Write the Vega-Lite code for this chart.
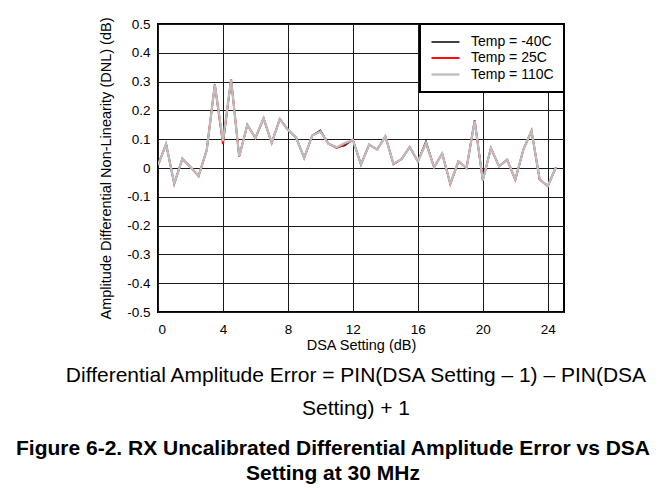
{
  "$schema": "https://vega.github.io/schema/vega-lite/v6.json",
  "padding": {"left": 15, "top": 16, "right": 5, "bottom": 5},
  "background": "white",
  "title": {
    "text": ["Figure 6-2. RX Uncalibrated Differential Amplitude Error vs DSA", "Setting at 30 MHz"],
    "orient": "bottom", "anchor": "middle", "frame": "bounds", "dx": -23,
    "font": "Liberation Sans", "fontSize": 21, "fontWeight": "bold", "lineHeight": 25,
    "offset": 18, "color": "black"
  },
  "vconcat": [
    {
      "width": 406,
      "height": 288,
      "title": {
        "text": ["Differential Amplitude Error = PIN(DSA Setting – 1) – PIN(DSA", "Setting) + 1"],
        "orient": "bottom", "anchor": "middle", "frame": "group", "dx": -5,
        "font": "Liberation Sans", "fontSize": 21, "fontWeight": "normal", "lineHeight": 33,
        "offset": 13, "color": "black"
      },
      "data": {
        "values": [
          {"dsa": 0, "Temp = -40C": 0.01, "Temp = 25C": 0.01, "Temp = 110C": 0.01},
          {"dsa": 0.5, "Temp = -40C": 0.083, "Temp = 25C": 0.083, "Temp = 110C": 0.083},
          {"dsa": 1, "Temp = -40C": -0.054, "Temp = 25C": -0.055, "Temp = 110C": -0.054},
          {"dsa": 1.5, "Temp = -40C": 0.032, "Temp = 25C": 0.032, "Temp = 110C": 0.032},
          {"dsa": 2, "Temp = -40C": 0.003, "Temp = 25C": 0.003, "Temp = 110C": 0.003},
          {"dsa": 2.5, "Temp = -40C": -0.027, "Temp = 25C": -0.028, "Temp = 110C": -0.027},
          {"dsa": 3, "Temp = -40C": 0.062, "Temp = 25C": 0.062, "Temp = 110C": 0.062},
          {"dsa": 3.5, "Temp = -40C": 0.289, "Temp = 25C": 0.29, "Temp = 110C": 0.289},
          {"dsa": 4, "Temp = -40C": 0.09, "Temp = 25C": 0.083, "Temp = 110C": 0.093},
          {"dsa": 4.5, "Temp = -40C": 0.308, "Temp = 25C": 0.308, "Temp = 110C": 0.308},
          {"dsa": 5, "Temp = -40C": 0.04, "Temp = 25C": 0.04, "Temp = 110C": 0.04},
          {"dsa": 5.5, "Temp = -40C": 0.15, "Temp = 25C": 0.15, "Temp = 110C": 0.15},
          {"dsa": 6, "Temp = -40C": 0.104, "Temp = 25C": 0.104, "Temp = 110C": 0.104},
          {"dsa": 6.5, "Temp = -40C": 0.173, "Temp = 25C": 0.173, "Temp = 110C": 0.173},
          {"dsa": 7, "Temp = -40C": 0.087, "Temp = 25C": 0.087, "Temp = 110C": 0.087},
          {"dsa": 7.5, "Temp = -40C": 0.17, "Temp = 25C": 0.17, "Temp = 110C": 0.17},
          {"dsa": 8, "Temp = -40C": 0.133, "Temp = 25C": 0.133, "Temp = 110C": 0.133},
          {"dsa": 8.5, "Temp = -40C": 0.106, "Temp = 25C": 0.106, "Temp = 110C": 0.106},
          {"dsa": 9, "Temp = -40C": 0.035, "Temp = 25C": 0.035, "Temp = 110C": 0.035},
          {"dsa": 9.5, "Temp = -40C": 0.113, "Temp = 25C": 0.113, "Temp = 110C": 0.113},
          {"dsa": 10, "Temp = -40C": 0.131, "Temp = 25C": 0.127, "Temp = 110C": 0.127},
          {"dsa": 10.5, "Temp = -40C": 0.084, "Temp = 25C": 0.084, "Temp = 110C": 0.084},
          {"dsa": 11, "Temp = -40C": 0.072, "Temp = 25C": 0.07, "Temp = 110C": 0.072},
          {"dsa": 11.5, "Temp = -40C": 0.078, "Temp = 25C": 0.082, "Temp = 110C": 0.087},
          {"dsa": 12, "Temp = -40C": 0.099, "Temp = 25C": 0.097, "Temp = 110C": 0.097},
          {"dsa": 12.5, "Temp = -40C": 0.012, "Temp = 25C": 0.012, "Temp = 110C": 0.012},
          {"dsa": 13, "Temp = -40C": 0.081, "Temp = 25C": 0.081, "Temp = 110C": 0.081},
          {"dsa": 13.5, "Temp = -40C": 0.064, "Temp = 25C": 0.064, "Temp = 110C": 0.064},
          {"dsa": 14, "Temp = -40C": 0.11, "Temp = 25C": 0.11, "Temp = 110C": 0.11},
          {"dsa": 14.5, "Temp = -40C": 0.015, "Temp = 25C": 0.013, "Temp = 110C": 0.015},
          {"dsa": 15, "Temp = -40C": 0.031, "Temp = 25C": 0.031, "Temp = 110C": 0.031},
          {"dsa": 15.5, "Temp = -40C": 0.073, "Temp = 25C": 0.073, "Temp = 110C": 0.073},
          {"dsa": 16, "Temp = -40C": 0.023, "Temp = 25C": 0.023, "Temp = 110C": 0.023},
          {"dsa": 16.5, "Temp = -40C": 0.093, "Temp = 25C": 0.087, "Temp = 110C": 0.087},
          {"dsa": 17, "Temp = -40C": 0.003, "Temp = 25C": 0.003, "Temp = 110C": 0.003},
          {"dsa": 17.5, "Temp = -40C": 0.05, "Temp = 25C": 0.05, "Temp = 110C": 0.05},
          {"dsa": 18, "Temp = -40C": -0.054, "Temp = 25C": -0.056, "Temp = 110C": -0.054},
          {"dsa": 18.5, "Temp = -40C": 0.023, "Temp = 25C": 0.023, "Temp = 110C": 0.023},
          {"dsa": 19, "Temp = -40C": 0.0, "Temp = 25C": 0.0, "Temp = 110C": 0.0},
          {"dsa": 19.5, "Temp = -40C": 0.166, "Temp = 25C": 0.164, "Temp = 110C": 0.164},
          {"dsa": 20, "Temp = -40C": -0.043, "Temp = 25C": -0.043, "Temp = 110C": -0.043},
          {"dsa": 20.5, "Temp = -40C": 0.069, "Temp = 25C": 0.069, "Temp = 110C": 0.069},
          {"dsa": 21, "Temp = -40C": 0.006, "Temp = 25C": 0.006, "Temp = 110C": 0.006},
          {"dsa": 21.5, "Temp = -40C": 0.029, "Temp = 25C": 0.029, "Temp = 110C": 0.029},
          {"dsa": 22, "Temp = -40C": -0.04, "Temp = 25C": -0.042, "Temp = 110C": -0.04},
          {"dsa": 22.5, "Temp = -40C": 0.064, "Temp = 25C": 0.064, "Temp = 110C": 0.064},
          {"dsa": 23, "Temp = -40C": 0.129, "Temp = 25C": 0.129, "Temp = 110C": 0.129},
          {"dsa": 23.5, "Temp = -40C": -0.04, "Temp = 25C": -0.04, "Temp = 110C": -0.04},
          {"dsa": 24, "Temp = -40C": -0.062, "Temp = 25C": -0.063, "Temp = 110C": -0.062},
          {"dsa": 24.5, "Temp = -40C": 0.002, "Temp = 25C": 0.002, "Temp = 110C": 0.002}
        ]
      },
      "transform": [
        {"fold": ["Temp = -40C", "Temp = 25C", "Temp = 110C"], "as": ["temp", "v"]}
      ],
      "mark": {"type": "line", "clip": true},
      "encoding": {
        "x": {
          "field": "dsa", "type": "quantitative",
          "scale": {"domain": [0, 25], "nice": false, "zero": false},
          "axis": {
            "values": [0, 4, 8, 12, 16, 20, 24],
            "title": "DSA Setting (dB)",
            "labelPadding": 10, "titlePadding": 3
          }
        },
        "y": {
          "field": "v", "type": "quantitative",
          "scale": {"domain": [-0.5, 0.5], "nice": false},
          "axis": {
            "values": [-0.5, -0.4, -0.3, -0.2, -0.1, 0, 0.1, 0.2, 0.3, 0.4, 0.5],
            "labelExpr": "replace(format(datum.value, '.1~f'), '\u2212', '-')",
            "title": "Amplitude Differential Non-Linearity (DNL) (dB)",
            "labelPadding": 8, "titlePadding": 13
          }
        },
        "color": {
          "field": "temp", "type": "nominal",
          "scale": {"domain": ["Temp = -40C", "Temp = 25C", "Temp = 110C"], "range": ["#000000", "#ff0000", "#bdbdbd"]},
          "legend": {"title": null, "orient": "top-right", "offset": 0}
        },
        "strokeWidth": {
          "field": "temp", "type": "ordinal",
          "scale": {"domain": ["Temp = -40C", "Temp = 25C", "Temp = 110C"], "range": [1.5, 2.3, 1.8]},
          "legend": null
        }
      }
    }
  ],
  "config": {
    "view": {"stroke": "#000000", "strokeWidth": 2},
    "axis": {
      "domain": false, "ticks": false, "tickSize": 0,
      "grid": true, "gridColor": "#1a1a1a", "gridWidth": 1, "gridOpacity": 1,
      "labelFont": "Liberation Sans", "labelFontSize": 13.5, "labelColor": "#000000",
      "titleFont": "Liberation Sans", "titleFontSize": 14.5, "titleFontWeight": "normal", "titleColor": "#000000"
    },
    "legend": {
      "padding": 10, "strokeColor": "#000000", "strokeWidth": 2, "fillColor": "#ffffff",
      "symbolType": "M-1,0H3", "symbolSize": 196, "symbolStrokeWidth": 2,
      "labelFont": "Liberation Sans", "labelFontSize": 14, "labelColor": "#000000",
      "labelOffset": 24, "rowPadding": 1, "cornerRadius": 0
    }
  }
}
